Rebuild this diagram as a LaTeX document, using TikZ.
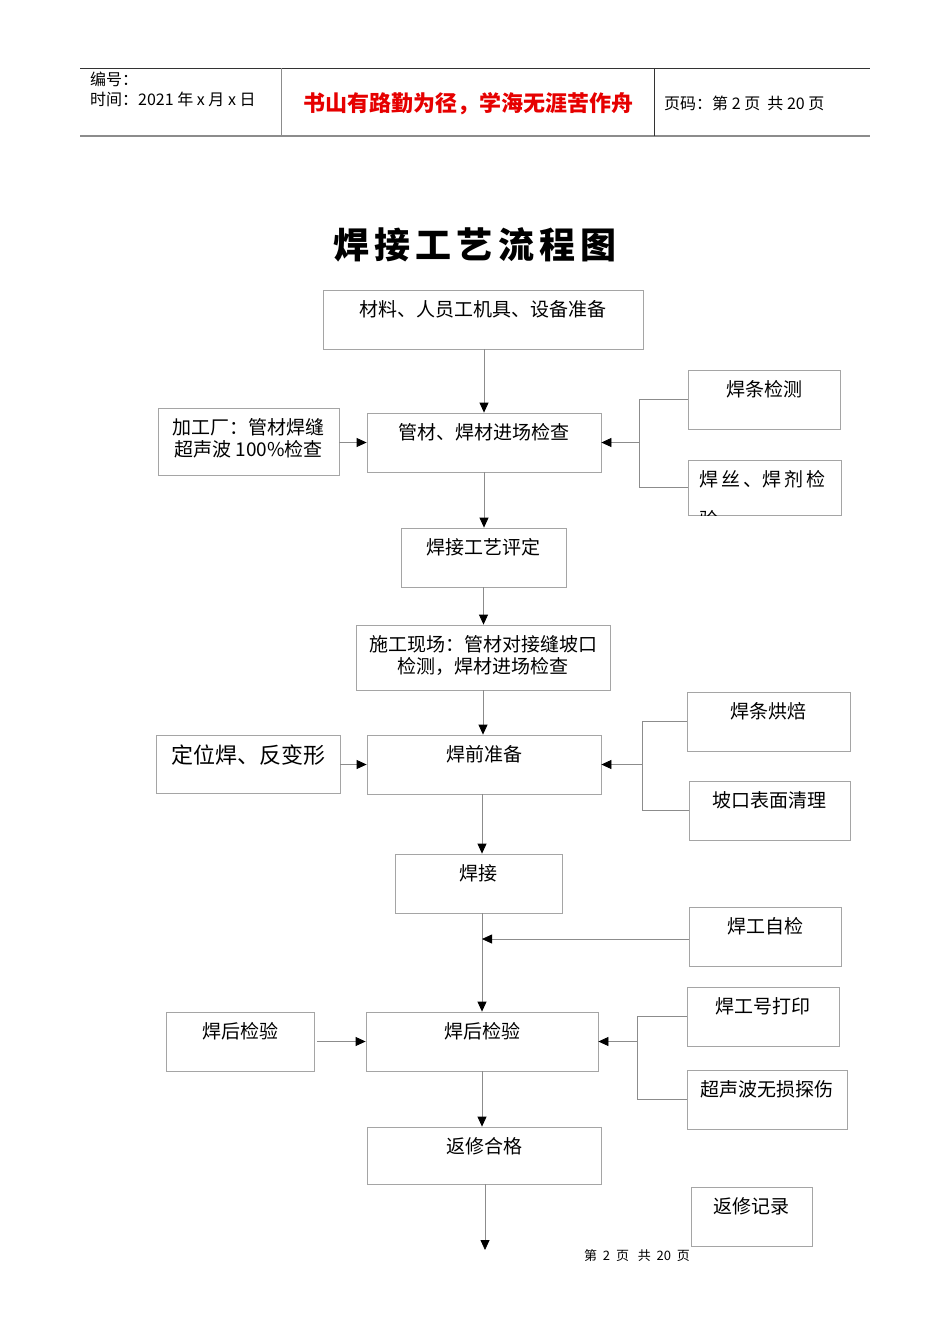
\documentclass[tikz,border=0pt]{standalone}
\usepackage{fontspec}
\setmainfont{Noto Sans CJK SC}
\usetikzlibrary{arrows.meta}
\definecolor{boxgray}{RGB}{165,165,165}
\definecolor{linegray}{RGB}{140,140,140}
\definecolor{mottored}{RGB}{230,0,0}
\tikzset{
  box/.style={draw=boxgray, line width=0.8pt, minimum height=59pt, inner sep=0pt},
  tx/.style={label={[anchor=north, yshift=-10.5pt, inner sep=0pt, align=center,
      font=\fontsize{19}{22}\selectfont]north:#1}},
  link/.style={draw=linegray, line width=0.8pt},
  arr/.style={link, -{Triangle[width=9pt,length=10pt,color=black]}},
  head/.style={anchor=west, inner sep=0pt, font=\fontsize{16}{19}\selectfont}
}
\begin{document}
\begin{tikzpicture}[x=1pt,y=-1pt]
\useasboundingbox[fill=white] (0,0) rectangle (950,1344);

% page header
\draw[black!80, line width=0.8pt] (80,68) -- (870,68);
\draw[linegray, line width=1.6pt] (80,136) -- (870,136);
\draw[linegray, line width=0.8pt] (281,68) -- (281,136);
\draw[black!80, line width=0.8pt] (654,68) -- (654,136);
\node[head] (num) at (90,79) {编号：};
\node[head] (date) at (90,99) {时间：2021\ 年\ x\ 月\ x\ 日};
\node[inner sep=0pt, text=mottored, font=\fontsize{22}{26}\selectfont\bfseries] (motto) at (468,104) {书山有路勤为径，学海无涯苦作舟};
\node[head] (page) at (664,103) {页码：第 2 页\ \ 共 20 页};

\node[inner sep=0pt, font=\fontsize{36}{42}\selectfont\bfseries\addfontfeatures{LetterSpace=14}] (title) at (475,245) {焊接工艺流程图};

% boxes
\node[box, minimum width=320pt, tx={材料、人员工机具、设备准备}] (b1) at (483,319.5) {};
\node[box, minimum width=152pt, tx={焊条检测}] (b2) at (764,399.5) {};
\node[box, minimum width=181pt, minimum height=67pt, tx={加工厂：管材焊缝\\超声波 100\%检查}] (b3) at (248.5,441.5) {};
\node[box, minimum width=234pt, tx={管材、焊材进场检查}] (b4) at (484,442.5) {};
\node[box, minimum width=153pt, minimum height=55pt] (b5) at (764.5,487.5) {};
\begin{scope}
\clip (b5.south west) rectangle (b5.north east);
\node[anchor=north west, inner sep=0pt, align=left, font=\fontsize{19}{22}\selectfont] (t5) at ([xshift=12pt,yshift=-10.5pt]b5.north west)
  {焊\hspace{3pt}丝\hspace{3pt}、焊\hspace{3pt}剂\hspace{3pt}检\\[18pt]验};
\end{scope}
\node[box, minimum width=165pt, tx={焊接工艺评定}] (b6) at (483.5,557.5) {};
\node[box, minimum width=254pt, minimum height=65pt, tx={施工现场：管材对接缝坡口\\检测，焊材进场检查}] (b7) at (483,657.5) {};
\node[box, minimum width=163pt, tx={焊条烘焙}] (b8) at (768.5,721.5) {};
\node[box, minimum width=184pt, minimum height=58pt,
  label={[anchor=north, yshift=-10pt, inner sep=0pt, font=\fontsize{22}{26}\selectfont]north:定位焊、反变形}] (b9) at (248,764) {};
\node[box, minimum width=234pt, tx={焊前准备}] (b10) at (484,764.5) {};
\node[box, minimum width=161pt, tx={坡口表面清理}] (b11) at (769.5,810.5) {};
\node[box, minimum width=167pt, tx={焊接}] (b12) at (478.5,883.5) {};
\node[box, minimum width=152pt, tx={焊工自检}] (b13) at (765,936.5) {};
\node[box, minimum width=152pt, tx={焊工号打印}] (b14) at (763,1016.5) {};
\node[box, minimum width=148pt, tx={焊后检验}] (b15) at (240,1041.5) {};
\node[box, minimum width=232pt, tx={焊后检验}] (b16) at (482,1041.5) {};
\node[box, minimum width=160pt, tx={超声波无损探伤}] (b17) at (767,1099.5) {};
\node[box, minimum width=234pt, minimum height=57pt, tx={返修合格}] (b18) at (484,1155.5) {};
\node[box, minimum width=121pt, tx={返修记录}] (b19) at (751.5,1216.5) {};

% main line
\draw[arr] (b4.north |- b1.south) -- (b4.north);
\draw[arr] (b4.south) -- (b4.south |- b6.north);
\draw[arr] (b6.south) -- (b6.south |- b7.north);
\draw[arr] (b7.south) -- (b7.south |- b10.north);
\draw[arr] (b16.north |- b10.south) -- (b16.north |- b12.north);
\draw[arr] (b16.north |- b12.south) -- (b16.north);
\draw[arr] (b16.south) -- (b16.south |- b18.north);
\coordinate (end) at (485,1250);
\draw[arr] (end |- b18.south) -- (end);

% side inputs
\draw[arr] (b3.east |- b4.west) -- (b4.west);
\draw[arr] (b9.east |- b10.west) -- (b10.west);
\draw[arr] ([xshift=3pt]b15.east) -- (b16.west);
\draw[arr] ([yshift=-2.5pt]b13.west) -- ([yshift=-2.5pt]b13.west -| b16.north);

\coordinate (k1) at ([xshift=38pt]b4.east);
\draw[link] (b2.west) -| (k1) |- (b5.west);
\draw[arr] (k1) -- (b4.east);
\coordinate (k2) at ([xshift=41pt]b10.east);
\draw[link] (b8.west) -| (k2) |- (b11.west);
\draw[arr] (k2) -- (b10.east);
\coordinate (k3) at ([xshift=39pt]b16.east);
\draw[link] (b14.west) -| (k3) |- (b17.west);
\draw[arr] (k3) -- (b16.east);

\node[inner sep=0pt, font=\fontsize{13}{16}\selectfont] (foot) at (637,1256) {第\ \ 2\ \ 页\ \ \ 共\ \ 20\ \ 页};
\end{tikzpicture}
\end{document}
